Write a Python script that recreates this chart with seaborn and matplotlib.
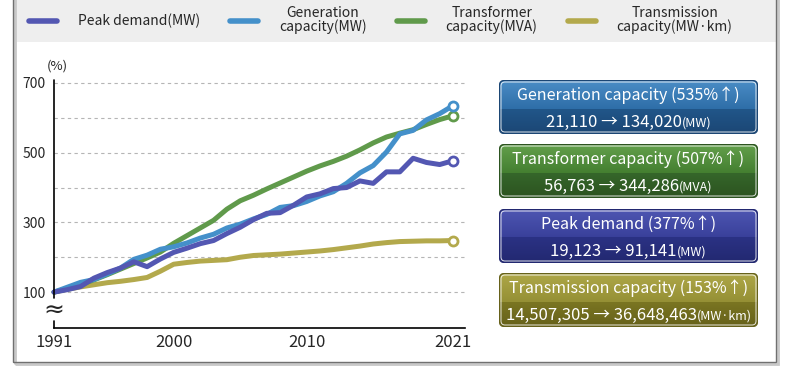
import matplotlib.pyplot as plt
import seaborn as sns
import pandas as pd
from matplotlib.patches import Rectangle, FancyBboxPatch
from matplotlib.lines import Line2D
from matplotlib.offsetbox import TextArea, HPacker, AnnotationBbox
import numpy as np

# index values, 1991 = 100 (%)
years = list(range(1991, 2022))
peak_demand = [100, 107, 116, 140, 156, 169, 187, 173, 195, 214, 226, 239, 248, 268, 286,
               308, 326, 328, 349, 373, 382, 397, 400, 419, 412, 445, 445, 484, 472, 466, 477]
generation = [100, 114, 128, 136, 152, 169, 194, 206, 223, 230, 241, 255, 266, 284, 295,
              310, 323, 343, 348, 360, 376, 388, 412, 442, 463, 502, 554, 564, 594, 612, 635]
transformer = [100, 110, 122, 135, 150, 166, 182, 198, 215, 240, 262, 284, 306, 338, 362,
               378, 396, 413, 430, 447, 462, 475, 490, 508, 528, 545, 556, 566, 581, 595, 606]
transmission = [100, 108, 115, 121, 127, 131, 136, 142, 160, 180, 185, 189, 191, 193, 200,
                205, 207, 209, 212, 215, 218, 222, 227, 232, 238, 242, 245, 246, 247, 247, 248]

series_labels = ['Peak demand(MW)', 'Generation\ncapacity(MW)',
                 'Transformer\ncapacity(MVA)', 'Transmission\ncapacity(MW·km)']
series_colors = ['#5357B2', '#4490CA', '#609A4B', '#B3A94C']

box_titles = ['Generation capacity (535%↑)', 'Transformer capacity (507%↑)',
              'Peak demand (377%↑)', 'Transmission capacity (153%↑)']
box_from = ['21,110', '56,763', '19,123', '14,507,305']
box_to = ['134,020', '344,286', '91,141', '36,648,463']
box_units = ['(MW)', '(MVA)', '(MW)', '(MW·km)']
box_top_colors = [('#4B8DC6', '#2E6EA8'), ('#63A04C', '#447F30'),
                  ('#4E56B2', '#39409A'), ('#AFA848', '#959035')]
box_bottom_colors = [('#215689', '#1B4674'), ('#35662A', '#2C5320'),
                     ('#2B3284', '#222870'), ('#7A7522', '#66611A')]

sns.set_style('white')
plt.rcParams['font.family'] = ['Noto Sans CJK KR', 'DejaVu Sans']

W, H = 792, 375
fig = plt.figure(figsize=(W / 100, H / 100), dpi=100)

# frame and legend band
fig.patches.append(Rectangle((13 / W, 1 - 42 / H), 763 / W, 42 / H, transform=fig.transFigure,
                             facecolor='#EEEEEE', edgecolor='none', zorder=0))
fig.patches.append(Rectangle((15 / W, 1 - 364 / H), 763 / W, 364 / H + 0.01, transform=fig.transFigure,
                             facecolor='none', edgecolor='#C8C8C8', lw=2, zorder=0))
fig.patches.append(Rectangle((13 / W, 1 - 362 / H), 763 / W, 362 / H + 0.01, transform=fig.transFigure,
                             facecolor='none', edgecolor='#707070', lw=1, zorder=1))

df = pd.DataFrame({
    'year': years * 4,
    'value': peak_demand + generation + transformer + transmission,
    'series': sum([[s] * len(years) for s in series_labels], []),
})

ax = fig.add_axes([54 / W, 1 - 328 / H, 411 / W, 248.5 / H])
draw_order = [series_labels[3], series_labels[2], series_labels[1], series_labels[0]]
sns.lineplot(data=df, x='year', y='value', hue='series', hue_order=draw_order,
             palette=dict(zip(series_labels, series_colors)), linewidth=3.6,
             legend=False, ax=ax)
for ln in ax.lines:
    ln.set_clip_on(False)
    ln.set_solid_capstyle('round')
    ln.set_solid_joinstyle('round')
for vals, c in zip([transmission, transformer, generation, peak_demand], series_colors[::-1]):
    ax.plot(years[-1], vals[-1], marker='o', ms=6.5, mfc='white', mec=c, mew=2, clip_on=False, zorder=5)

ax.set_xlim(1991, 1991 + 411 / 13.3)
ax.set_ylim(-3, 710)
ax.set_yticks(range(100, 701, 100))
ax.set_yticklabels(['100', '', '300', '', '500', '', '700'], fontsize=10)
ax.set_xticks([1991, 2000, 2010, 2021])
ax.set_xticklabels(['1991', '2000', '2010', '2021'], fontsize=12)
ax.tick_params(length=0, pad=6)
ax.tick_params(axis='x', pad=4)
ax.yaxis.grid(True, color='#B5B5B5', linestyle=(0, (3, 3)), lw=0.8)
ax.xaxis.grid(False)
ax.set_xlabel('')
ax.set_ylabel('')
for s in ['top', 'right', 'left']:
    ax.spines[s].set_visible(False)
ax.spines['bottom'].set_color('black')
ax.spines['bottom'].set_linewidth(1.2)
ytr = ax.get_yaxis_transform()
ax.plot([0, 0], [83, 710], transform=ytr, color='black', lw=1.2, clip_on=False)
ax.plot([0, 0], [-3, 18], transform=ytr, color='black', lw=1.2, clip_on=False)
ax.text(0, 46, '≈', transform=ytr, ha='center', va='center', fontsize=18, family=['DejaVu Sans'])
fig.text(57 / W, 1 - 66 / H, '(%)', ha='center', va='center', fontsize=9.5)

# legend
handles = [Line2D([0], [0], color=c, lw=4, solid_capstyle='round') for c in series_colors]
leg = fig.legend(handles, series_labels, loc='center left', bbox_to_anchor=(29 / W, 1 - 20 / H),
                 ncol=4, frameon=False, fontsize=10, handlelength=2.0, handletextpad=1.5,
                 columnspacing=2.2, borderpad=0, borderaxespad=0)
for t in leg.get_texts():
    t.set_multialignment('center')
    t.set_linespacing(0.95)

# summary boxes
tops = [80, 144, 209, 273]
bw, bh, split = 259, 54, 29
for i in range(4):
    bax = fig.add_axes([499 / W, 1 - (tops[i] + bh) / H, bw / W, bh / H])
    bax.set_xlim(0, bw)
    bax.set_ylim(bh, 0)
    bax.axis('off')
    shape = FancyBboxPatch((0.5, 0.5), bw - 1, bh - 1, boxstyle='round,pad=0,rounding_size=5',
                           facecolor='none', edgecolor=box_bottom_colors[i][1], lw=1.0)
    bax.add_patch(shape)
    g1 = np.linspace(0, 1, 50).reshape(-1, 1)
    im1 = bax.imshow(g1, extent=[0, bw, split, 0], aspect='auto',
                     cmap=sns.blend_palette(box_top_colors[i], as_cmap=True))
    im2 = bax.imshow(g1, extent=[0, bw, bh, split], aspect='auto',
                     cmap=sns.blend_palette(box_bottom_colors[i], as_cmap=True))
    im1.set_clip_path(shape)
    im2.set_clip_path(shape)
    bax.add_patch(FancyBboxPatch((2, 2), bw - 4, bh - 4, boxstyle='round,pad=0,rounding_size=4',
                                 facecolor='none', edgecolor='white', lw=0.7, alpha=0.85))
    bax.text(bw / 2, 15, box_titles[i], ha='center', va='center', color='white', fontsize=11.5)
    main = TextArea(box_from[i] + ' → ' + box_to[i], textprops=dict(color='white', fontsize=12))
    unit = TextArea(box_units[i], textprops=dict(color='white', fontsize=9))
    pack = HPacker(children=[main, unit], align='baseline', pad=0, sep=0)
    bax.add_artist(AnnotationBbox(pack, (bw / 2, 42), xycoords='data', frameon=False,
                                  box_alignment=(0.5, 0.5), pad=0))

fig.savefig('out.png', dpi=100)
